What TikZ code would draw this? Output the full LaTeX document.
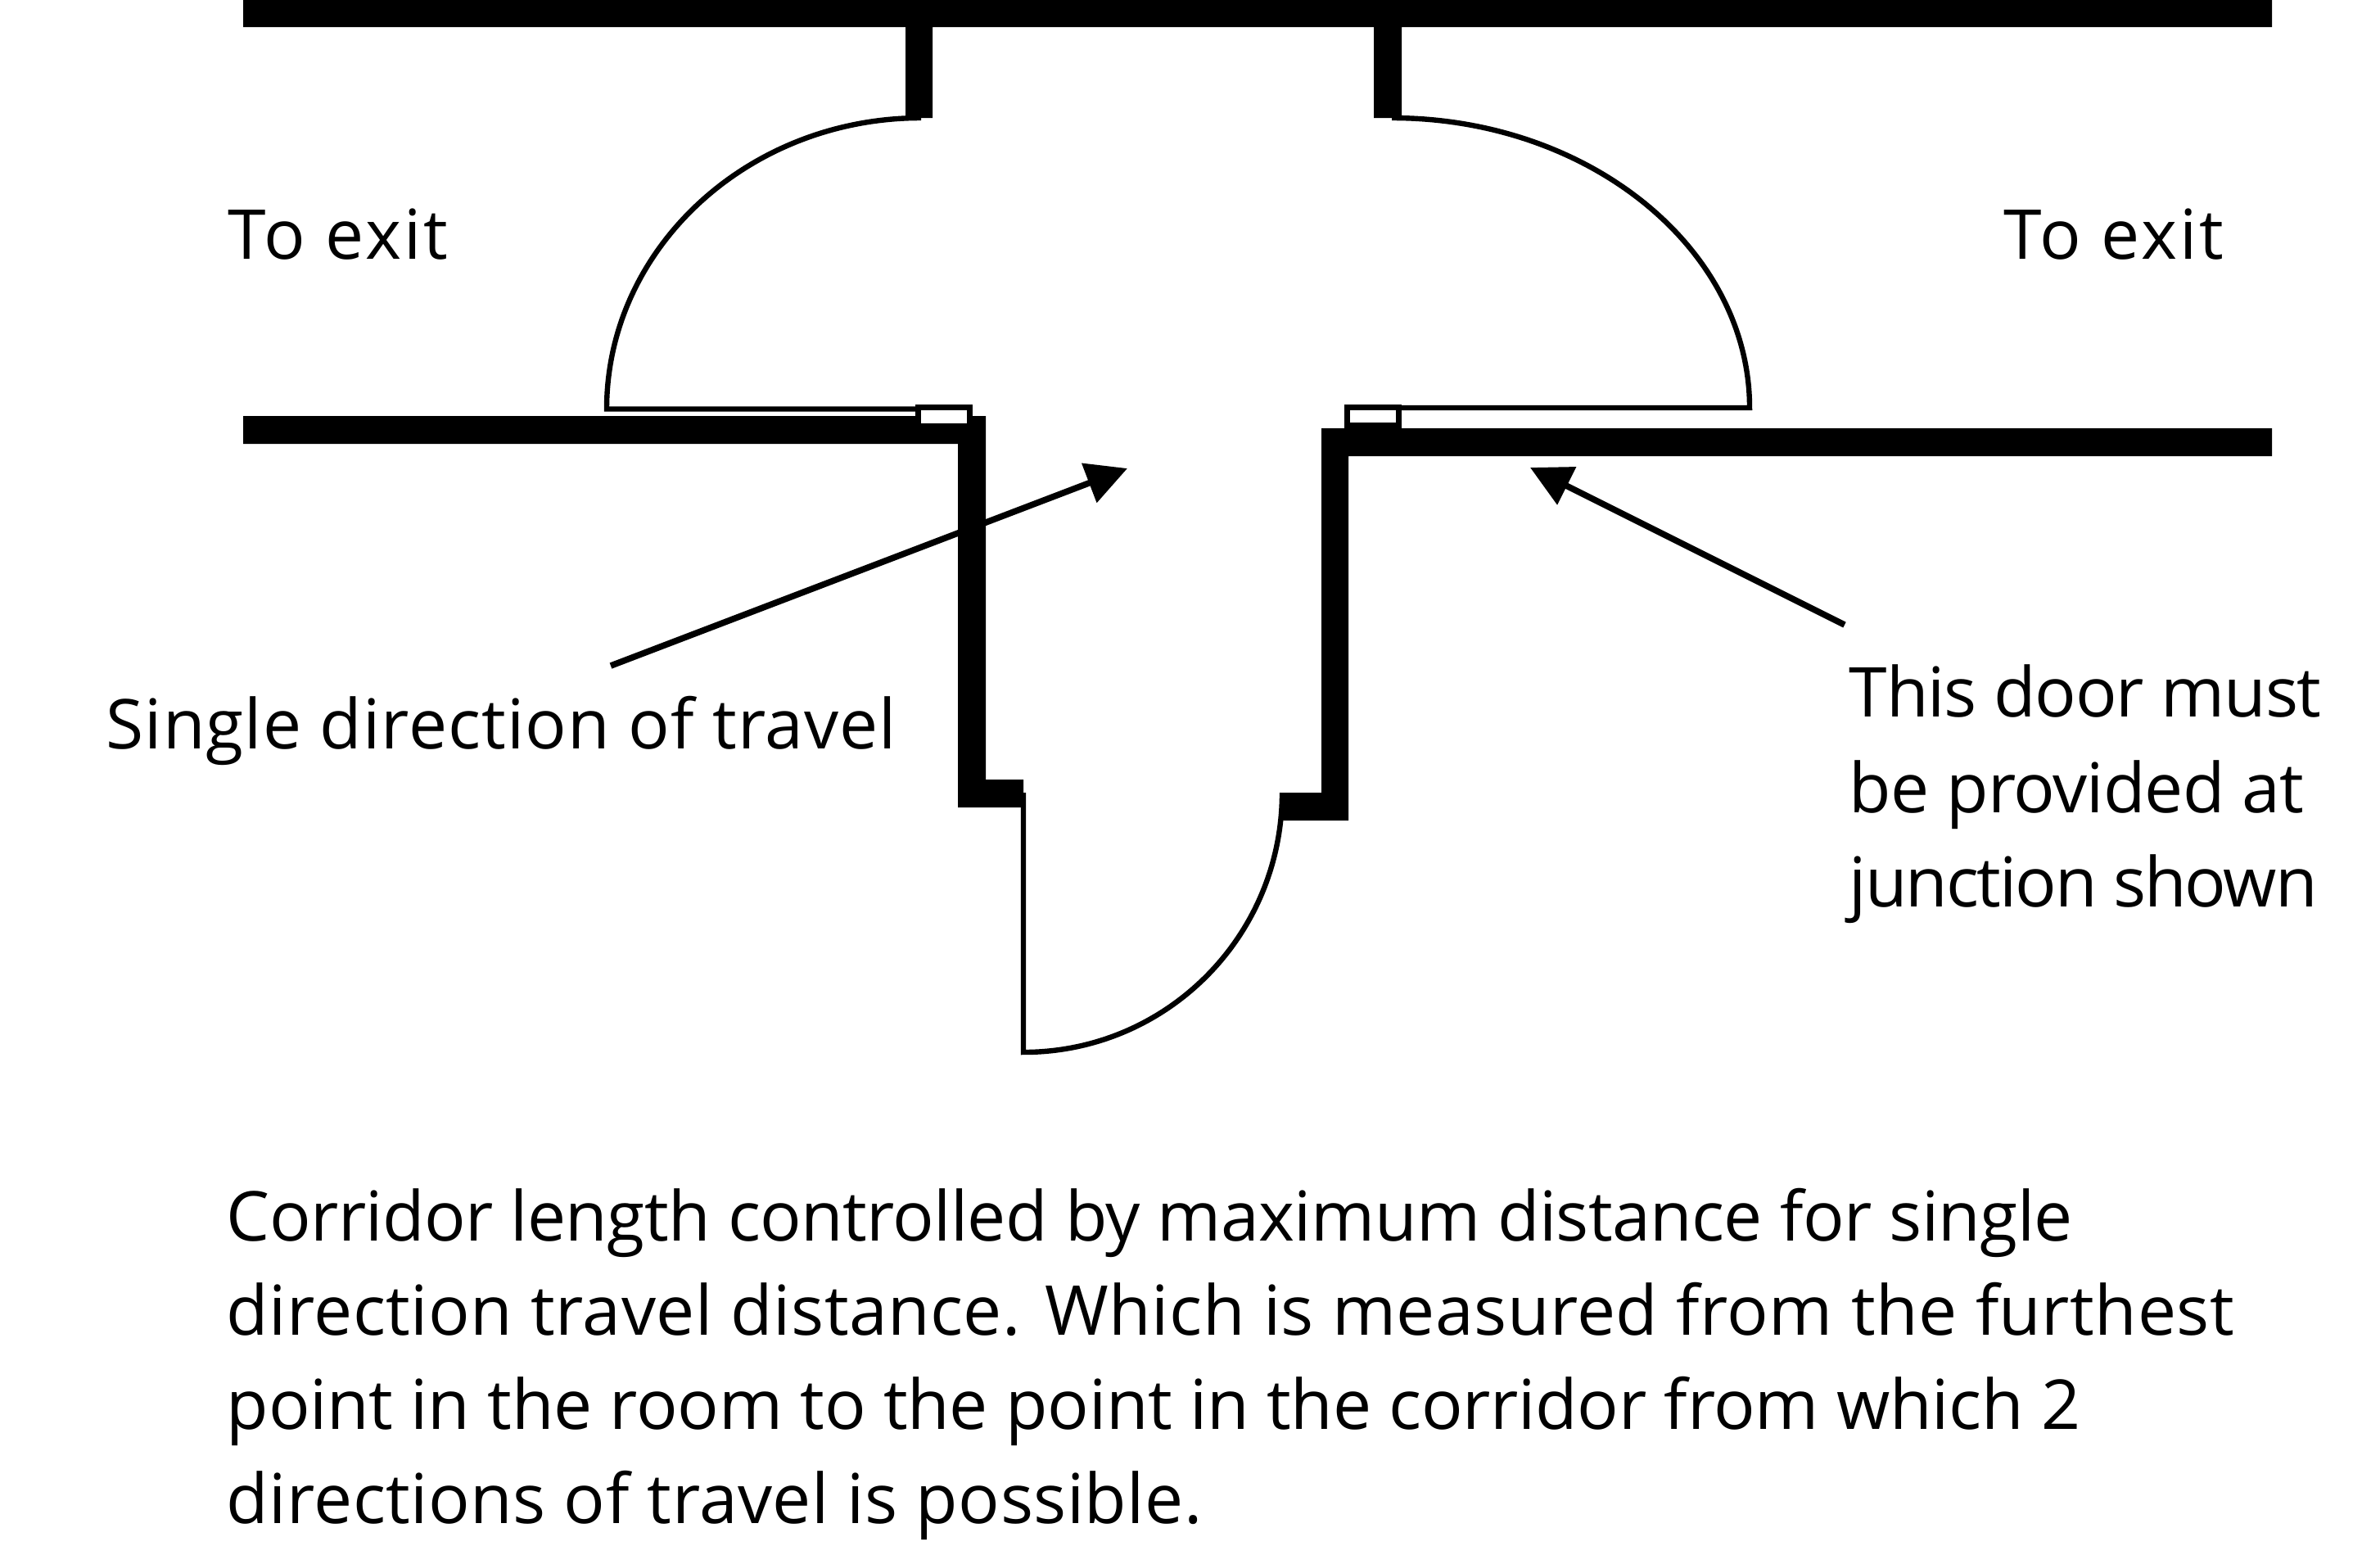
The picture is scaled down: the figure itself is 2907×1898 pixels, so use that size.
\documentclass[tikz,border=0pt]{standalone}
\usepackage{fontspec}
\setmainfont{Open Sans}
\usetikzlibrary{arrows.meta}
\tikzset{
  wall/.style={fill=black,draw=none},
  doorline/.style={line width=1.6pt,line join=miter},
  hingebox/.style={line width=1.75pt,fill=white},
  pointer/.style={line width=1.9pt,-{Triangle[length=12.5pt,width=12.5pt]}},
  label/.style={inner sep=0pt,font=\fontsize{21}{28.9}\selectfont\addfontfeature{LetterSpace=#1}}
}
\begin{document}
\begin{tikzpicture}[x=0.25pt,y=0.25pt,yscale=-1,xscale=1]
\useasboundingbox (0,0) rectangle (2907,1898);

%Shape: Top wall
\fill [wall] (297,0) -- (2775,0) -- (2775,33) -- (1712,33) -- (1712,144) -- (1678,144) -- (1678,33) -- (1139,33) -- (1139,144) -- (1106,144) -- (1106,33) -- (297,33) -- cycle ;
%Shape: Left wall
\fill [wall] (297,508) -- (1204,508) -- (1204,952) -- (1250,952) -- (1250,986) -- (1170,986) -- (1170,542) -- (297,542) -- cycle ;
%Shape: Right wall
\fill [wall] (2775,523) -- (1614,523) -- (1614,968) -- (1563,968) -- (1563,1002) -- (1647,1002) -- (1647,557) -- (2775,557) -- cycle ;

%Shape: Left door
\draw [doorline] (1125,144) .. controls (913,144) and (741,304) .. (741,499.5) -- (1118,499.5) ;
%Shape: Right door
\draw [doorline] (1700,144) .. controls (1941,144) and (2137,304) .. (2137,498) -- (1712,498) ;
%Shape: Bottom door
\draw [doorline] (1250,968) -- (1250,1285) .. controls (1425,1285) and (1566,1143) .. (1566,968) ;

%Shape: Left hinge
\draw [hingebox] (1121.5,497.5) rectangle (1184.5,520.5) ;
%Shape: Right hinge
\draw [hingebox] (1645.5,497.5) rectangle (1708.5,519.5) ;

%Arrows
\coordinate (traveltail) at (746,813) ;
\coordinate (traveltip) at (1377,572) ;
\coordinate (doortail) at (2253,763) ;
\coordinate (doortip) at (1869,571) ;
\draw [pointer] (traveltail) -- (traveltip) ;
\draw [pointer] (doortail) -- (doortip) ;

% Text Node
\draw (278,316) node (exitleft) [anchor=base west][label=3.5] {To exit};
% Text Node
\draw (2447,316) node (exitright) [anchor=base west][label=3.5] {To exit};
% Text Node
\draw (129,914) node (traveltext) [anchor=base west][label=1.2] {Single direction of travel};
% Text Node
\draw (2258,875) node (doortext) [anchor=base west][label=-1.4] {This door must};
% Text Node
\draw (2258,992) node (doortextb) [anchor=base west][label=-1.1] {be provided at};
% Text Node
\draw (2258,1107) node (doortextc) [anchor=base west][label=-2.5] {junction shown};
% Text Node
\draw (276,1515) node (notea) [anchor=base west][label=-0.73] {Corridor length controlled by maximum distance for single};
% Text Node
\draw (276,1630) node (noteb) [anchor=base west][label=0.58] {direction travel distance. Which is measured from the furthest};
% Text Node
\draw (276,1745) node (notec) [anchor=base west][label=-0.38] {point in the room to the point in the corridor from which 2};
% Text Node
\draw (276,1860) node (noted) [anchor=base west][label=0.55] {directions of travel is possible.};
\end{tikzpicture}
\end{document}
